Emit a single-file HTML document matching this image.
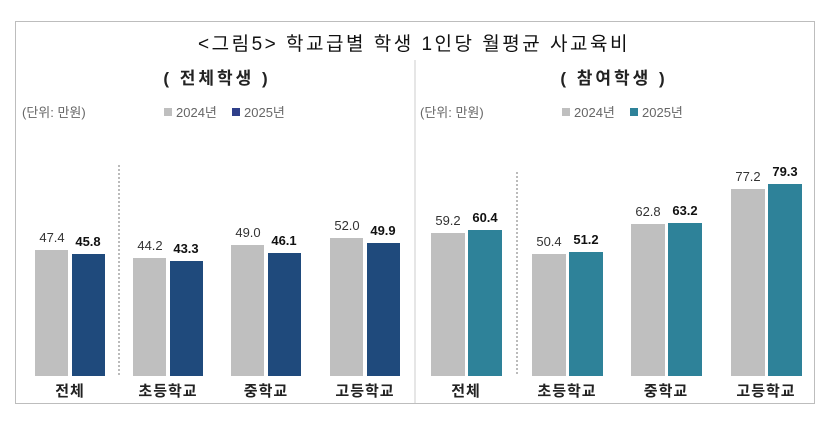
<!DOCTYPE html><html><head><meta charset="utf-8"><style>body{margin:0;background:#fff}svg text{font-family:"Liberation Sans","Noto Sans CJK KR",sans-serif}</style></head><body>
<svg width="828" height="423" xmlns="http://www.w3.org/2000/svg">
<rect x="15.5" y="21.5" width="799" height="382" fill="#fff" stroke="#bdbdbd"/>
<text x="414" y="50" font-size="19" text-anchor="middle" fill="#111" letter-spacing="2.5">&lt;그림5&gt; 학교급별  학생  1인당  월평균  사교육비</text>
<line x1="415" y1="60" x2="415" y2="403" stroke="#ccc"/>
<text x="217" y="84" font-size="17" font-weight="bold" text-anchor="middle" fill="#222" letter-spacing="3">(  전체학생  )</text>
<text x="614" y="84" font-size="17" font-weight="bold" text-anchor="middle" fill="#222" letter-spacing="3">(  참여학생  )</text>
<g font-size="13" fill="#666">
<text x="22" y="117">(단위: 만원)</text>
<rect x="164" y="108" width="8" height="8" fill="#bfbfbf"/><text x="176" y="117">2024년</text>
<rect x="232" y="108" width="8" height="8" fill="#2f3f8a"/><text x="244" y="117">2025년</text>
<text x="420" y="117">(단위: 만원)</text>
<rect x="562" y="108" width="8" height="8" fill="#bfbfbf"/><text x="574" y="117">2024년</text>
<rect x="630" y="108" width="8" height="8" fill="#2e8299"/><text x="642" y="117">2025년</text>
</g>
<line x1="119" y1="165" x2="119" y2="376" stroke="#777" stroke-dasharray="2,2"/>
<line x1="517" y1="172" x2="517" y2="376" stroke="#777" stroke-dasharray="2,2"/>
<g font-size="13" text-anchor="middle">
<rect x="35" y="250" width="33" height="126" fill="#bfbfbf"/><rect x="72" y="254" width="33" height="122" fill="#1f4a7c"/>
<text x="52" y="242" fill="#333">47.4</text><text x="88" y="246" font-weight="bold" fill="#111">45.8</text>
<rect x="133" y="258" width="33" height="118" fill="#bfbfbf"/><rect x="170" y="261" width="33" height="115" fill="#1f4a7c"/>
<text x="150" y="250" fill="#333">44.2</text><text x="186" y="253" font-weight="bold" fill="#111">43.3</text>
<rect x="231" y="245" width="33" height="131" fill="#bfbfbf"/><rect x="268" y="253" width="33" height="123" fill="#1f4a7c"/>
<text x="248" y="237" fill="#333">49.0</text><text x="284" y="245" font-weight="bold" fill="#111">46.1</text>
<rect x="330" y="238" width="33" height="138" fill="#bfbfbf"/><rect x="367" y="243" width="33" height="133" fill="#1f4a7c"/>
<text x="347" y="230" fill="#333">52.0</text><text x="383" y="235" font-weight="bold" fill="#111">49.9</text>
<rect x="431" y="233" width="34" height="143" fill="#bfbfbf"/><rect x="468" y="230" width="34" height="146" fill="#2e8299"/>
<text x="448" y="225" fill="#333">59.2</text><text x="485" y="222" font-weight="bold" fill="#111">60.4</text>
<rect x="532" y="254" width="34" height="122" fill="#bfbfbf"/><rect x="569" y="252" width="34" height="124" fill="#2e8299"/>
<text x="549" y="246" fill="#333">50.4</text><text x="586" y="244" font-weight="bold" fill="#111">51.2</text>
<rect x="631" y="224" width="34" height="152" fill="#bfbfbf"/><rect x="668" y="223" width="34" height="153" fill="#2e8299"/>
<text x="648" y="216" fill="#333">62.8</text><text x="685" y="215" font-weight="bold" fill="#111">63.2</text>
<rect x="731" y="189" width="34" height="187" fill="#bfbfbf"/><rect x="768" y="184" width="34" height="192" fill="#2e8299"/>
<text x="748" y="181" fill="#333">77.2</text><text x="785" y="176" font-weight="bold" fill="#111">79.3</text>
</g>
<g font-size="15" font-weight="bold" text-anchor="middle" fill="#222" letter-spacing="1">
<text x="70" y="396">전체</text><text x="168" y="396">초등학교</text><text x="266" y="396">중학교</text><text x="365" y="396">고등학교</text>
<text x="466" y="396">전체</text><text x="567" y="396">초등학교</text><text x="666" y="396">중학교</text><text x="766" y="396">고등학교</text>
</g>
</svg></body></html>
